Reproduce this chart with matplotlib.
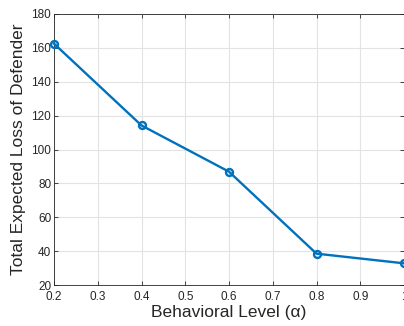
import matplotlib
matplotlib.use("Agg")
import matplotlib.pyplot as plt

alpha = [0.2, 0.4, 0.6, 0.8, 1.0]
loss = [162.5, 114.2, 86.9, 38.5, 32.8]

xticks = [0.2, 0.3, 0.4, 0.5, 0.6, 0.7, 0.8, 0.9, 1.0]
xticklabels = ["0.2", "0.3", "0.4", "0.5", "0.6", "0.7", "0.8", "0.9", "1"]
yticks = [20, 40, 60, 80, 100, 120, 140, 160, 180]

plt.rcParams["font.family"] = ["Liberation Sans", "DejaVu Sans"]

fig = plt.figure(figsize=(4.04, 3.26), dpi=100)
ax = fig.add_axes([54 / 404, 1 - 285 / 326, 350 / 404, 271 / 326])

ax.plot(alpha, loss, color="#0072BD", linewidth=1.7, marker="o", markersize=5,
        markerfacecolor="none", markeredgewidth=1.7, clip_on=False, zorder=3)

ax.set_xlim(0.2, 1.0)
ax.set_ylim(20, 180)
ax.set_xticks(xticks)
ax.set_xticklabels(xticklabels)
ax.set_yticks(yticks)
ax.grid(True, color="#e3e3e3", linewidth=0.8)
ax.set_axisbelow(True)
ax.tick_params(direction="in", top=True, right=True, labelsize=8.5,
               colors="#262626", length=3, width=0.6)
ax.tick_params(axis="x", pad=4)
ax.tick_params(axis="y", pad=2)
for s in ax.spines.values():
    s.set_color("#262626")
    s.set_linewidth(0.6)

ax.set_xlabel("Behavioral Level (α)", fontsize=12.5, color="#262626", labelpad=2)
ax.set_ylabel("Total Expected Loss of Defender", fontsize=12.5, color="#262626", labelpad=4)

fig.savefig("out.png", dpi=100)
